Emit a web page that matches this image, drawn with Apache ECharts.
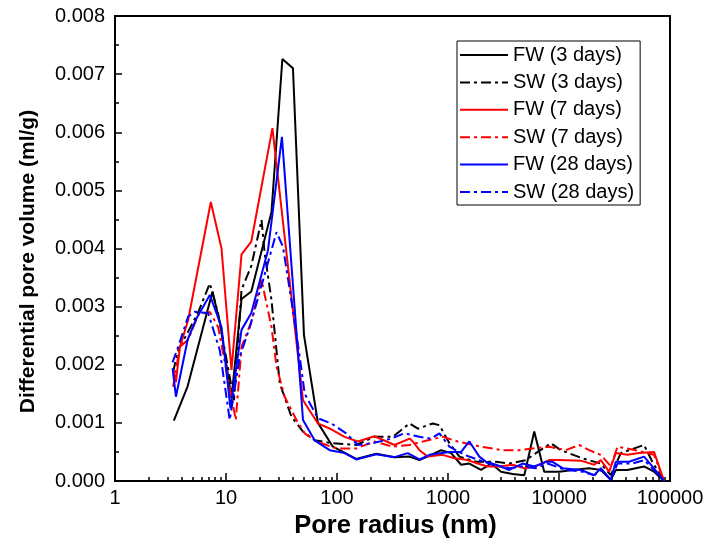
<!DOCTYPE html>
<html>
<head>
<meta charset="utf-8">
<script src="https://cdn.jsdelivr.net/npm/echarts/dist/echarts.min.js"></script>
<style>
html,body{margin:0;padding:0;background:#fff;}
#chart{width:708px;height:549px;}
</style>
</head>
<body>
<div id="chart"></div>
<script>
const seriesNames = ['FW (3 days)', 'SW (3 days)', 'FW (7 days)', 'SW (7 days)', 'FW (28 days)', 'SW (28 days)'];
const xTickLabels = [1, 10, 100, 1000, 10000, 100000];
const yTickLabels = ['0.000','0.001','0.002','0.003','0.004','0.005','0.006','0.007','0.008'];

const fw3R = [3.39, 4.51, 7.56, 8.92, 11.2, 13.8, 16.9, 25.7, 32.2, 40.1, 50.4, 67.3, 91.8, 149, 226, 330, 450, 553, 706, 867, 1067, 1312, 1556, 1985, 2443, 3005, 3820, 4865, 5985, 7360, 10040, 13240, 18700, 23820, 29300, 32500, 41300, 58400, 71800, 88300];
const fw3V = [0.00104, 0.00163, 0.00326, 0.00267, 0.00142, 0.00313, 0.00326, 0.00463, 0.00726, 0.0071, 0.00251, 0.001, 0.00059, 0.00038, 0.00047, 0.00041, 0.00042, 0.00036, 0.00045, 0.00053, 0.00048, 0.00028, 0.0003, 0.00019, 0.0003, 0.00016, 0.00012, 0.0001, 0.00085, 0.00016, 0.00016, 0.00019, 0.00022, 0.00019, 0.00002, 0.00019, 0.00019, 0.00025, 0.00016, 0];

const sw3R = [3.34, 3.71, 4.56, 5.61, 7.15, 8.49, 11.8, 13.8, 16.9, 20.9, 22.3, 25.7, 30.5, 38.8, 49.4, 62.9, 91.8, 149, 218, 318, 450, 535, 728, 837, 1030, 1267, 1790, 2710, 3565, 5040, 6195, 8450, 10400, 16300, 23820, 29300, 36050, 58400, 69340, 88300];
const sw3V = [0.00188, 0.00225, 0.00257, 0.0029, 0.0034, 0.00288, 0.00139, 0.00329, 0.0037, 0.00449, 0.00392, 0.00311, 0.00168, 0.00111, 0.00085, 0.0007, 0.00065, 0.00062, 0.00076, 0.00076, 0.00099, 0.0009, 0.00099, 0.00096, 0.00065, 0.00042, 0.00033, 0.00033, 0.0003, 0.00036, 0.00048, 0.00065, 0.00053, 0.00039, 0.0003, 0.0001, 0.00048, 0.00062, 0.00033, 0];

const fw7R = [3.39, 3.54, 3.84, 4.56, 7.3, 9.11, 11.2, 13.8, 16.9, 26.2, 49.4, 67.3, 88.9, 117, 154, 218, 330, 450, 482, 553, 658, 896, 1142, 1503, 1849, 2276, 2900, 3820, 4865, 6195, 8160, 10040, 15740, 20750, 23820, 28300, 32500, 41300, 52600, 71800, 88300];
const fw7V = [0.0019, 0.0017, 0.0023, 0.00277, 0.0048, 0.004, 0.00191, 0.0039, 0.00412, 0.00607, 0.00139, 0.00099, 0.00089, 0.00076, 0.00068, 0.00077, 0.00062, 0.00073, 0.00068, 0.00053, 0.00042, 0.00045, 0.00039, 0.00036, 0.0003, 0.00025, 0.00025, 0.00028, 0.00022, 0.00025, 0.00036, 0.00036, 0.00035, 0.00028, 0.00036, 0.00016, 0.00048, 0.00045, 0.00048, 0.0005, 0];

const sw7R = [3.34, 3.84, 4.56, 5.61, 7.15, 8.49, 12.25, 13.8, 16.9, 20.9, 25.7, 28.5, 33.8, 43.1, 51.2, 65.2, 98.6, 149, 218, 318, 450, 658, 896, 1222, 1985, 3106, 4385, 5780, 8160, 11530, 15200, 18700, 23820, 29300, 33650, 49170, 71800, 88300];
const sw7V = [0.00162, 0.00231, 0.00243, 0.00286, 0.00291, 0.00265, 0.00105, 0.00231, 0.00274, 0.00346, 0.00265, 0.00197, 0.00145, 0.00105, 0.00082, 0.00068, 0.00056, 0.00056, 0.00068, 0.00059, 0.00062, 0.0007, 0.00076, 0.00068, 0.00059, 0.00053, 0.00053, 0.00056, 0.00059, 0.00053, 0.00062, 0.00053, 0.00045, 0.00025, 0.00059, 0.00053, 0.00045, 0];

const fw28R = [3.3, 3.54, 4.51, 5.43, 7.15, 9.11, 10.97, 13.8, 16.9, 23.9, 31.9, 49.4, 62.9, 85.9, 117, 149, 226, 330, 434, 553, 681, 1030, 1312, 1556, 1915, 2203, 2710, 3565, 4700, 5985, 7625, 8750, 10760, 15740, 20750, 23820, 29300, 32500, 42760, 58400, 69340, 88300];
const fw28V = [0.00194, 0.00145, 0.00243, 0.0028, 0.0032, 0.00265, 0.00125, 0.0026, 0.00289, 0.00397, 0.00592, 0.00105, 0.0007, 0.00053, 0.00048, 0.00037, 0.00046, 0.00041, 0.00048, 0.00037, 0.00045, 0.0005, 0.0005, 0.00068, 0.00042, 0.00033, 0.00028, 0.00019, 0.0003, 0.00025, 0.00033, 0.00033, 0.00022, 0.00019, 0.0001, 0.00022, 0.00002, 0.00033, 0.00033, 0.00042, 0.00025, 0];

const sw28R = [3.3, 3.71, 4.56, 5.24, 6.9, 8.79, 10.8, 13.3, 16.4, 21.6, 28.5, 32.6, 38.8, 46.1, 51.2, 67.3, 88.9, 121, 154, 210, 308, 405, 553, 706, 837, 1030, 1404, 1915, 2525, 3565, 4700, 6195, 7880, 11530, 16300, 20750, 23820, 29300, 33650, 45810, 58400, 71800, 88300];
const sw28V = [0.00204, 0.00231, 0.00283, 0.00291, 0.00289, 0.00225, 0.00105, 0.00214, 0.00265, 0.00346, 0.00428, 0.00403, 0.00311, 0.00214, 0.0015, 0.00108, 0.00099, 0.00082, 0.00062, 0.00065, 0.00073, 0.00082, 0.00076, 0.00073, 0.00082, 0.00059, 0.00045, 0.00036, 0.00028, 0.00022, 0.00025, 0.00022, 0.0003, 0.00019, 0.00016, 0.0001, 0.00019, 0.00002, 0.0003, 0.0003, 0.00036, 0.00019, 0];

const colors = ['#000000', '#000000', '#ff0000', '#ff0000', '#0000ff', '#0000ff'];
const dashDot = [10, 4, 3, 4];

const pairs = [[fw3R, fw3V], [sw3R, sw3V], [fw7R, fw7V], [sw7R, sw7V], [fw28R, fw28V], [sw28R, sw28V]];
const zip = (r, v) => r.map((x, i) => [x, v[i]]);

const FONT = 'Liberation Sans, Arial, Helvetica, sans-serif';

const chart = echarts.init(document.getElementById('chart'), null, {renderer: 'canvas'});
chart.setOption({
  animation: false,
  backgroundColor: '#fff',
  grid: {left: 115, right: 38, top: 16, bottom: 68, show: true, borderColor: '#000', borderWidth: 2, backgroundColor: 'transparent'},
  legend: {
    orient: 'vertical', left: 457, top: 41,
    padding: [4, 6, 3, 2],
    borderColor: '#000', borderWidth: 1,
    itemWidth: 48, itemHeight: 14, itemGap: 7.4,
    itemStyle: {opacity: 0},
    textStyle: {fontFamily: FONT, fontSize: 20, color: '#000'},
    data: seriesNames
  },
  xAxis: {
    type: 'log', logBase: 10, min: xTickLabels[0], max: xTickLabels[xTickLabels.length - 1],
    name: 'Pore radius (nm)', nameLocation: 'middle', nameGap: 31,
    nameTextStyle: {fontFamily: FONT, fontSize: 25.5, fontWeight: 'bold', color: '#000', padding: [0, 0, 0, 6]},
    axisLine: {show: true, lineStyle: {color: '#000', width: 2}},
    axisTick: {show: true, inside: true, length: 8, lineStyle: {color: '#000', width: 1.5}},
    minorTick: {show: true, splitNumber: 9, length: 4, lineStyle: {color: '#000', width: 1.5}},
    axisLabel: {fontFamily: FONT, fontSize: 20, color: '#000', margin: 7, formatter: v => String(Math.round(v))},
    splitLine: {show: false}, minorSplitLine: {show: false}
  },
  yAxis: {
    type: 'value', min: 0, max: 0.008, interval: 0.001,
    name: 'Differential pore volume (ml/g)', nameLocation: 'middle', nameGap: 76,
    nameTextStyle: {fontFamily: FONT, fontSize: 21, fontWeight: 'bold', color: '#000', padding: [0, 26, 0, 0]},
    axisLine: {show: true, lineStyle: {color: '#000', width: 2}},
    axisTick: {show: true, inside: true, length: 7, lineStyle: {color: '#000', width: 1.5}},
    minorTick: {show: true, splitNumber: 2, length: 4, lineStyle: {color: '#000', width: 1.5}},
    axisLabel: {fontFamily: FONT, fontSize: 20, color: '#000', margin: 10, formatter: v => v.toFixed(3)},
    splitLine: {show: false}
  },
  series: seriesNames.map((name, i) => ({
    name: name,
    type: 'line',
    data: zip(pairs[i][0], pairs[i][1]),
    symbol: 'none',
    showSymbol: false,
    clip: true,
    color: colors[i],
    itemStyle: {color: colors[i], opacity: 0},
    lineStyle: {color: colors[i], width: 2, type: i % 2 === 1 ? dashDot : 'solid'}
  }))
});
</script>
</body>
</html>
